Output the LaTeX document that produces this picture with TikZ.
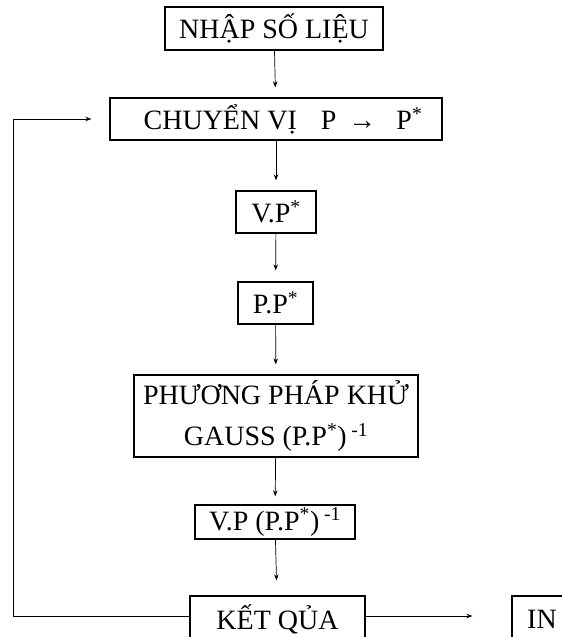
\documentclass[tikz,border=0pt]{standalone}
\usepackage{fontspec}
\setmainfont{Liberation Serif}
\usepackage{tikz}
\usetikzlibrary{arrows.meta}

\begin{document}
\begin{tikzpicture}[x=1pt, y=-1pt,
    every node/.style={font=\fontsize{28}{41}\selectfont},
    khoi/.style={draw, line width=1.3pt, inner sep=0pt, align=center},
    muiten/.style={line width=0.7pt, -{Stealth[length=6pt, width=4.5pt]}}]
    \clip (0,0) rectangle (562,637);
    \fill[white] (0,0) rectangle (562,637);
    % cac khoi
    \node[khoi, minimum width=218, minimum height=43] (nhap) at (274,28.5) {NHẬP SỐ LIỆU};
    \node[khoi, minimum width=332, minimum height=42] (chuyen) at (276,119) {\hspace{14pt}CHUYỂN VỊ\hspace{24pt}P\hspace{12pt}→\hspace{20pt}P\textsuperscript{*}};
    \node[khoi, minimum width=80, minimum height=42] (vp) at (276,212) {V.P\textsuperscript{*}};
    \node[khoi, minimum width=75, minimum height=42] (pp) at (275.5,303) {P.P\textsuperscript{*}};
    \node[khoi, minimum width=284, minimum height=82] (gauss) at (276,416) {PHƯƠNG PHÁP KHỬ\\GAUSS (P.P\textsuperscript{*})\,\textsuperscript{-1}};
    \node[khoi, minimum width=160, minimum height=34] (vpnghich) at (275,522) {V.P (P.P\textsuperscript{*})\,\textsuperscript{-1}};
    \node[khoi, minimum width=175, minimum height=46] (ketqua) at (277.5,619) {KẾT QỦA};
    \node[khoi, minimum width=60, minimum height=46] (in) at (542,619) {IN};
    \coordinate (vong) at (13,616);
    % cac mui ten
    \draw[muiten, shorten >=10pt] (nhap) -- (chuyen);
    \draw[muiten, shorten >=10pt] (chuyen) -- (vp);
    \draw[muiten, shorten >=11pt] (vp) -- (pp);
    \draw[muiten, shorten >=10pt] (pp) -- (gauss);
    \draw[muiten, shorten >=8pt] (gauss) -- (vpnghich);
    \draw[muiten, shorten >=15pt] (vpnghich) -- (ketqua);
    \draw[muiten, shorten >=39pt] (ketqua.east |- vong) -- (in.west |- vong);
    \draw[muiten, shorten >=18pt] (ketqua.west |- vong) -- (vong) |- (chuyen.west);
\end{tikzpicture}
\end{document}
